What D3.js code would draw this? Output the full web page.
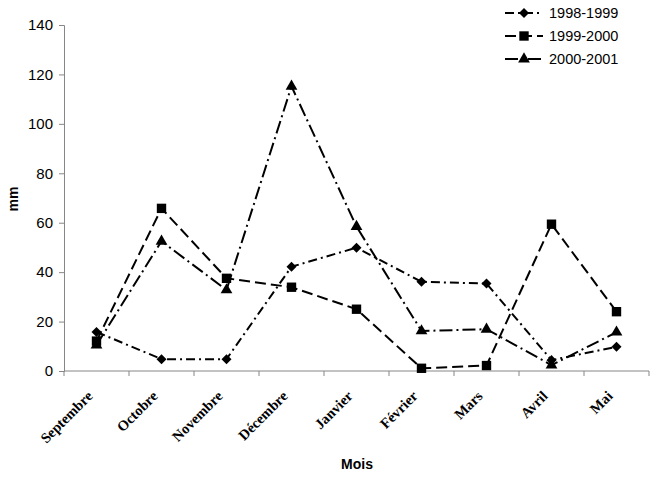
<!DOCTYPE html>
<html>
<head>
<meta charset="utf-8">
<script src="https://cdn.jsdelivr.net/npm/d3@7"></script>
<style>
  body { margin: 0; background: #fff; }
  svg { display: block; }
</style>
</head>
<body>
<svg id="chart" width="659" height="484"></svg>
<script>
// months on the x axis
var months = ["Septembre", "Octobre", "Novembre", "Décembre", "Janvier", "Février", "Mars", "Avril", "Mai"];
var seriesNames = ["1998-1999", "1999-2000", "2000-2001"];
// rainfall in mm
var rain9899 = [15.8, 4.8, 4.8, 42.2, 49.9, 36.1, 35.4, 4.4, 9.8];
var rain9900 = [12.1, 65.8, 37.5, 33.9, 25.0, 1.1, 2.2, 59.4, 24.0];
var rain0001 = [10.5, 52.5, 32.8, 115.2, 58.4, 16.2, 16.9, 2.4, 15.7];
var yTicks = [0, 20, 40, 60, 80, 100, 120, 140];

var margin = {top: 25, right: 10, bottom: 113, left: 64},
    width = 649 - margin.left,
    height = 371 - margin.top;

var sans = "'Liberation Sans', Arial, sans-serif";

var svg = d3.select("#chart");
var g = svg.append("g").attr("transform", `translate(${margin.left},${margin.top})`);

var x = d3.scaleBand().domain(months).range([0, width]);
var y = d3.scaleLinear().domain([0, 140]).range([height, 0]);

// y axis
var yAxis = g.append("g")
    .call(d3.axisLeft(y).tickValues(yTicks).tickSize(5).tickPadding(6));
yAxis.selectAll("path, line").attr("stroke", "#868686");
yAxis.selectAll("text")
    .style("font-family", sans)
    .style("font-size", "15px")
    .attr("fill", "#000");

// x axis, ticks on band edges
var xAxis = g.append("g").attr("transform", `translate(0,${height})`);
xAxis.append("line")
    .attr("x1", 0).attr("x2", width).attr("y1", 0).attr("y2", 0)
    .attr("stroke", "#868686");
var edges = months.map(m => x(m)).concat([width]);
xAxis.selectAll(".tk").data(edges).enter().append("line")
    .attr("x1", d => d).attr("x2", d => d)
    .attr("y1", 0).attr("y2", 5)
    .attr("stroke", "#868686");
xAxis.selectAll(".lbl").data(months).enter().append("text")
    .attr("transform", d => `translate(${x(d) + x.bandwidth() / 2 - 3},${26}) rotate(-45)`)
    .attr("text-anchor", "end")
    .style("font-family", "'Liberation Serif', 'Times New Roman', serif")
    .style("font-weight", "bold")
    .style("font-size", "14.5px")
    .text(d => d);

// axis titles
svg.append("text")
    .attr("x", 357).attr("y", 469)
    .attr("text-anchor", "middle")
    .style("font-family", sans)
    .style("font-weight", "bold")
    .style("font-size", "14px")
    .text("Mois");
svg.append("text")
    .attr("transform", "translate(18,199) rotate(-90)")
    .attr("text-anchor", "middle")
    .style("font-family", sans)
    .style("font-weight", "bold")
    .style("font-size", "14px")
    .text("mm");

var series = [
  {name: seriesNames[0], values: rain9899, dash: "9,4,2,4", marker: d3.symbolDiamond2, size: 64},
  {name: seriesNames[1], values: rain9900, dash: "11,5", marker: d3.symbolSquare, size: 88},
  {name: seriesNames[2], values: rain0001, dash: "13,4,2,4", marker: d3.symbolTriangle, size: 60}
];

var line = d3.line()
    .x((d, i) => x(months[i]) + x.bandwidth() / 2)
    .y(d => y(d));

series.forEach(function(s) {
  g.append("path")
    .datum(s.values)
    .attr("fill", "none")
    .attr("stroke", "#000")
    .attr("stroke-width", 2)
    .attr("stroke-dasharray", s.dash)
    .attr("d", line);
  g.selectAll(null).data(s.values).enter().append("path")
    .attr("d", d3.symbol().type(s.marker).size(s.size))
    .attr("transform", (d, i) => `translate(${x(months[i]) + x.bandwidth() / 2},${y(d)})`)
    .attr("fill", "#000");
});

// legend
var legend = svg.append("g");
series.forEach(function(s, i) {
  var ly = 13 + i * 23;
  legend.append("line")
    .attr("x1", 505).attr("x2", 543).attr("y1", ly).attr("y2", ly)
    .attr("stroke", "#000").attr("stroke-width", 2)
    .attr("stroke-dasharray", s.dash);
  legend.append("path")
    .attr("d", d3.symbol().type(s.marker).size(s.size))
    .attr("transform", `translate(524,${ly})`)
    .attr("fill", "#000");
  legend.append("text")
    .attr("x", 549).attr("y", ly + 5)
    .style("font-family", sans)
    .style("font-size", "14.5px")
    .text(s.name);
});
</script>
</body>
</html>
